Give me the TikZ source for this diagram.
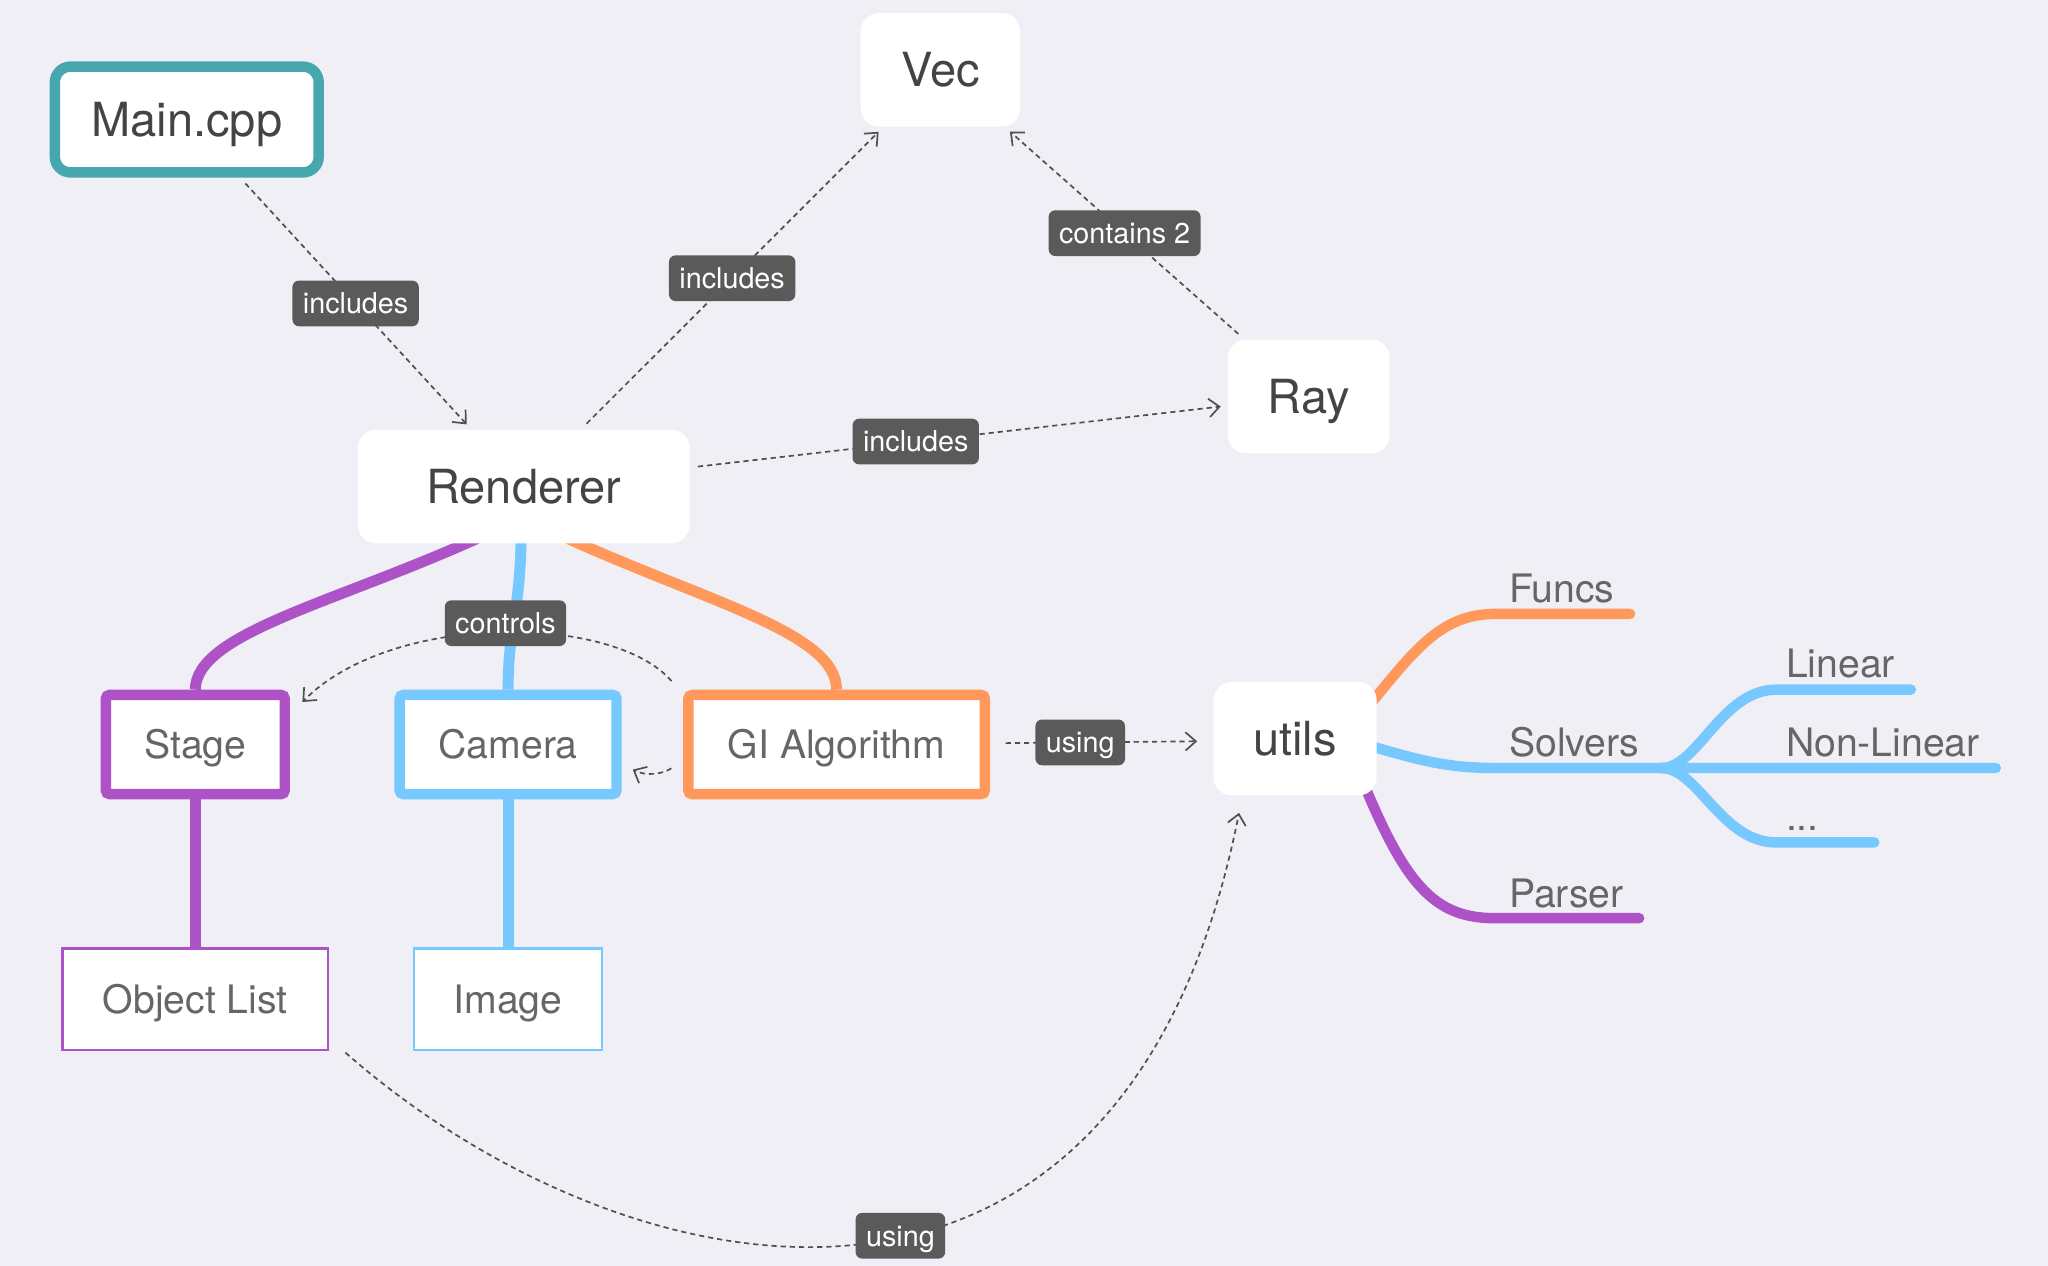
\documentclass[tikz,border=0pt]{standalone}
\usepackage{fontspec}
\setmainfont{TeX Gyre Heros}
\usetikzlibrary{arrows.meta,calc}
\definecolor{bgc}{RGB}{239,239,245}
\definecolor{cteal}{RGB}{70,168,174}
\definecolor{cpurple}{RGB}{174,82,200}
\definecolor{cblue}{RGB}{118,200,255}
\definecolor{corange}{RGB}{255,152,90}
\definecolor{lblc}{RGB}{90,90,90}
\definecolor{depc}{RGB}{80,80,80}
\definecolor{txtdark}{RGB}{68,68,68}
\definecolor{txtgray}{RGB}{102,102,102}
\pgfdeclarelayer{bglayer}
\pgfdeclarelayer{edgelayer}
\pgfsetlayers{bglayer,edgelayer,main}
\tikzset{
  topbox/.style={fill=white, rounded corners=7pt, inner sep=0pt, text=txtdark,
    font=\fontsize{18}{22}\selectfont, minimum height=43.5pt, text height=13pt, text depth=0pt},
  midbox/.style={fill=white, line width=4pt, rounded corners=1.5pt, inner sep=0pt, text=txtgray,
    font=\fontsize{15}{18}\selectfont, minimum height=38pt, text height=10.8pt, text depth=0pt},
  leafbox/.style={fill=white, line width=1pt, inner sep=0pt, text=txtgray,
    font=\fontsize{15}{18}\selectfont, minimum height=39pt, text height=10.8pt, text depth=0pt},
  mmtext/.style={anchor=base west, inner sep=0pt, text=txtgray, font=\fontsize{15}{18}\selectfont},
  lbl/.style={fill=lblc, text=white, rounded corners=2.5pt, inner xsep=4pt, inner ysep=0pt,
    minimum height=17.5pt, text height=7.9pt, text depth=0pt, font=\fontsize{11}{13}\selectfont},
  dep/.style={draw=depc, line width=0.65pt, dash pattern=on 2pt off 1.5pt,
    -{Straight Barb[length=4pt,width=7pt]}, shorten <=3pt, shorten >=2.5pt},
  branch/.style={line width=4pt, line cap=round},
  treeline/.style={line width=4.2pt}
}
\begin{document}
\begin{tikzpicture}[x=0.5pt,y=-0.5pt]
\begin{pgfonlayer}{bglayer}
  \fill[bgc] (0,0) rectangle (1568,969);
\end{pgfonlayer}
\useasboundingbox (0,0) rectangle (1568,969);

% main nodes
\node[topbox, draw=cteal, line width=4pt, rounded corners=6pt, minimum width=101pt, minimum height=40.5pt] (main) at (143,91.5) {Main.cpp};
\node[topbox, minimum width=61pt] (vec) at (720,53.5) {Vec};
\node[topbox, minimum width=62pt] (ray) at (1002,303.5) {Ray};
\node[topbox, minimum width=127pt] (renderer) at (401,372.5) {Renderer};
\node[topbox, minimum width=62.5pt] (utils) at (991.5,565.5) {utils};

\node[midbox, draw=cpurple, minimum width=68.5pt] (stage) at (149.5,570) {Stage};
\node[midbox, draw=cblue, minimum width=83pt] (camera) at (389,570) {Camera};
\node[midbox, draw=corange, minimum width=113.5pt] (gi) at (640.5,570) {GI Algorithm};
\node[leafbox, draw=cpurple, minimum width=101.5pt] (objlist) at (149.5,765) {Object List};
\node[leafbox, draw=cblue, minimum width=72pt] (image) at (389,765) {Image};

% mind map labels
\node[mmtext] (funcs) at (1155,461) {Funcs};
\node[mmtext] (solvers) at (1155,579) {Solvers};
\node[mmtext] (linear) at (1367,519) {Linear};
\node[mmtext] (nonlinear) at (1367,579) {Non-Linear};
\node[mmtext] (dots) at (1367,636) {...};
\node[mmtext] (parser) at (1155,695) {Parser};

\coordinate (fA) at (1145,470); \coordinate (fE) at (1248,470);
\coordinate (sA) at (1145,588); \coordinate (sJ) at (1272,588); \coordinate (sE) at (1528,588);
\coordinate (lA) at (1360,528); \coordinate (lE) at (1463,528);
\coordinate (dA) at (1360,645); \coordinate (dE) at (1435,645);
\coordinate (pA) at (1145,703); \coordinate (pE) at (1255,703);

\begin{pgfonlayer}{edgelayer}
  % tree connectors
  \draw[treeline, cpurple] ($(renderer.south)+(-36,-4)$) .. controls (255,462) and (150,485) .. (stage.north);
  \draw[treeline, cblue] ($(renderer.south)+(-2,-4)$) .. controls (398,470) and (389,480) .. (camera.north);
  \draw[treeline, corange] ($(renderer.south)+(34,-4)$) .. controls (545,462) and (640.5,485) .. (gi.north);
  \draw[treeline, cpurple] (stage.south) -- (objlist.north);
  \draw[treeline, cblue] (camera.south) -- (image.north);
  % mind map branches
  \draw[branch, corange] ($(utils.east)+(-4,-28)$) .. controls (1085,495) and (1105,470) .. (fA) -- (fE);
  \draw[branch, cblue] ($(utils.east)+(-4,6)$) .. controls (1090,583) and (1110,588) .. (sA) -- (sJ) -- (sE);
  \draw[branch, cblue] (sJ) .. controls (1300,588) and (1318,528) .. (lA) -- (lE);
  \draw[branch, cblue] (sJ) .. controls (1300,588) and (1318,645) .. (dA) -- (dE);
  \draw[branch, cpurple] ($(utils.east)+(-8,40)$) .. controls (1078,680) and (1100,703) .. (pA) -- (pE);
\end{pgfonlayer}

% dependency connectors
\draw[dep] (main) -- node[lbl] (l1) {includes} (renderer);
\draw[dep] (renderer) -- node[lbl] (l2) {includes} (vec);
\draw[dep] (ray) -- node[lbl] (l3) {contains 2} (vec);
\draw[dep] (renderer) -- node[lbl, pos=0.42] (l4) {includes} (ray);
\draw[dep] ($(gi.north west)+(-5,-2)$) .. controls (470,470) and (300,468) .. node[lbl, pos=0.5, xshift=2.5pt, yshift=4pt] (l5) {controls} ($(stage.north east)+(6,13)$);
\draw[dep] ($(gi.west)+(-4,15)$) to[bend left=30] ($(camera.east)+(4,17)$);
\draw[dep] ($(gi.east)+(6,-1)$) -- node[lbl, pos=0.4] (l6) {using} ($(utils.west)+(-7,2)$);
\draw[dep] ($(objlist.south east)+(8,-3)$) .. controls (480,995) and (860,1070) .. node[lbl, pos=0.545] (l7) {using} ($(utils.south west)+(21,8)$);
\end{tikzpicture}
\end{document}
